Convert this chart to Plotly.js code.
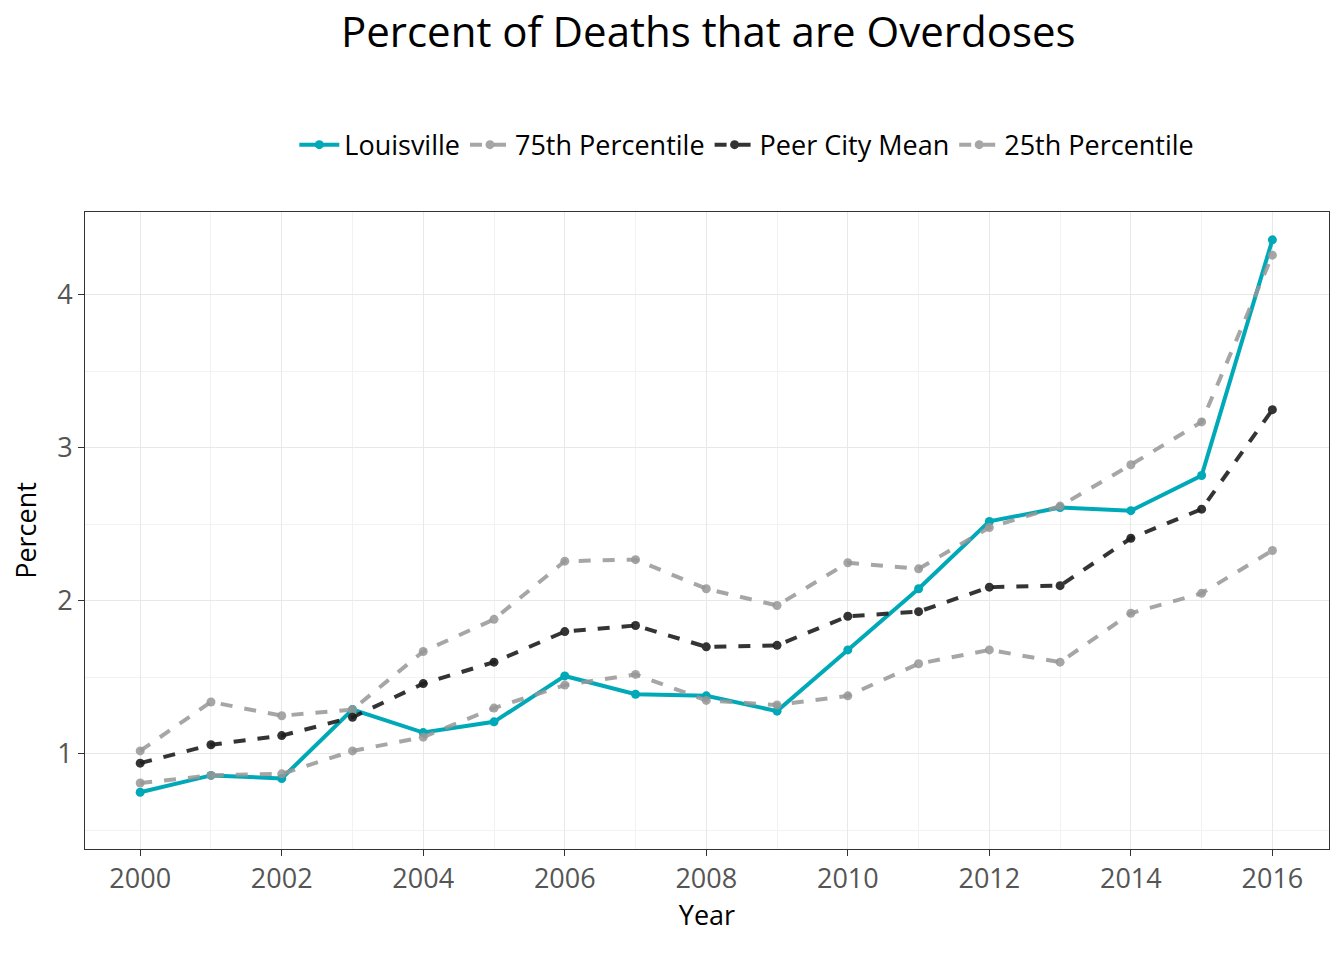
<!DOCTYPE html>
<html><head><script src="https://cdn.plot.ly/plotly-3.0.1.min.js"></script>
<style>body{margin:0}</style></head><body>
<div id="c" style="width:1344px;height:960px"></div>
<script>
const years=[2000,2001,2002,2003,2004,2005,2006,2007,2008,2009,2010,2011,2012,2013,2014,2015,2016];
const louisville=[0.75,0.86,0.84,1.29,1.14,1.21,1.51,1.39,1.38,1.28,1.68,2.08,2.52,2.61,2.59,2.82,4.36];
const p75=[1.02,1.34,1.25,1.29,1.67,1.88,2.26,2.27,2.08,1.97,2.25,2.21,2.48,2.62,2.89,3.17,4.26];
const peerMean=[0.94,1.06,1.12,1.24,1.46,1.60,1.80,1.84,1.70,1.71,1.90,1.93,2.09,2.10,2.41,2.60,3.25];
const p25=[0.81,0.86,0.87,1.02,1.11,1.30,1.45,1.52,1.35,1.32,1.38,1.59,1.68,1.60,1.92,2.05,2.33];
const grey='rgba(150,150,150,0.85)';
const traces=[
 {x:years,y:louisville,name:'Louisville',mode:'lines+markers',line:{color:'#00a9b7',width:4},marker:{size:9,color:'#00a9b7'}},
 {x:years,y:p75,name:'75th Percentile',mode:'lines+markers',line:{color:grey,width:4,dash:'dash'},marker:{size:9,color:grey}},
 {x:years,y:peerMean,name:'Peer City Mean',mode:'lines+markers',line:{color:'rgba(30,30,30,0.9)',width:4,dash:'dash'},marker:{size:9,color:'rgba(30,30,30,0.9)'}},
 {x:years,y:p25,name:'25th Percentile',mode:'lines+markers',line:{color:grey,width:4,dash:'dash'},marker:{size:9,color:grey}}
];
const layout={
 width:1344,height:960,margin:{l:85,r:15,t:212,b:111},
 font:{family:'Open Sans, sans-serif',color:'#000'},
 paper_bgcolor:'#fff',plot_bgcolor:'#fff',
 title:{text:'Percent of Deaths that are Overdoses',x:0.527,xanchor:'center',y:0.966,yanchor:'middle',font:{size:42}},
 showlegend:true,
 legend:{orientation:'h',x:0.532,xanchor:'center',y:1.105,yanchor:'middle',font:{size:27},traceorder:'normal',itemwidth:40},
 xaxis:{range:[1999.22,2016.8],tickvals:[2000,2002,2004,2006,2008,2010,2012,2014,2016],tickfont:{size:27,color:'#555'},
  showgrid:true,gridcolor:'#e8e8e8',gridwidth:1.3,minor:{tickvals:[2001,2003,2005,2007,2009,2011,2013,2015],showgrid:true,gridcolor:'#f2f2f2'},
  zeroline:false,showline:true,mirror:true,linecolor:'#333',ticks:'outside',tickcolor:'#333',ticklen:6,
  title:{text:'Year',font:{size:27},standoff:4}},
 yaxis:{range:[0.379,4.542],tickvals:[1,2,3,4],tickfont:{size:27,color:'#555'},
  showgrid:true,gridcolor:'#e8e8e8',gridwidth:1.3,minor:{tickvals:[0.5,1.5,2.5,3.5],showgrid:true,gridcolor:'#f2f2f2'},
  zeroline:false,showline:true,mirror:true,linecolor:'#333',ticks:'outside',tickcolor:'#333',ticklen:6,
  title:{text:'Percent',font:{size:27},standoff:12}}
};
Plotly.newPlot('c',traces,layout,{displayModeBar:false});
</script></body></html>
